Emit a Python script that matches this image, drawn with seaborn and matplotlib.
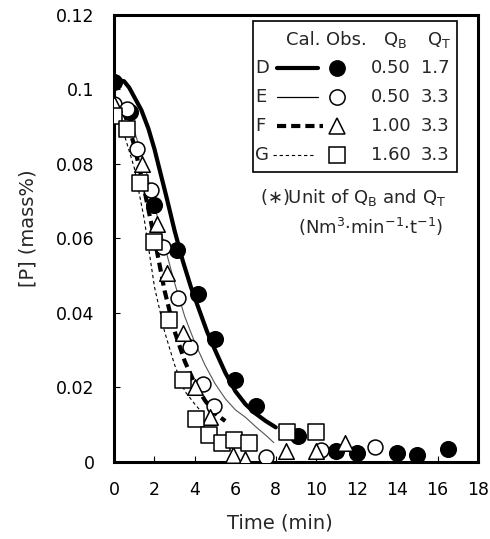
import matplotlib
matplotlib.use("Agg")
import matplotlib.pyplot as plt
import seaborn as sns
import numpy as np
import pandas as pd
from matplotlib.lines import Line2D
from matplotlib.patches import Rectangle

# ---------------- data ----------------
# observed points
t_D = [0, 0.8, 2.0, 3.1, 4.15, 5.0, 6.0, 7.0, 9.1, 11.0, 12.0, 14.0, 15.0, 16.5]
p_D = [0.102, 0.094, 0.069, 0.057, 0.045, 0.033, 0.022, 0.015, 0.007, 0.003, 0.0024, 0.0024, 0.002, 0.0035]

t_E = [0, 0.64, 1.13, 1.85, 2.43, 3.17, 3.76, 4.4, 4.95, 7.5, 10.25, 12.9]
p_E = [0.096, 0.0948, 0.084, 0.073, 0.0577, 0.044, 0.031, 0.021, 0.015, 0.0013, 0.0032, 0.004]

t_F = [0, 1.38, 2.13, 2.62, 3.4, 4.0, 4.75, 5.9, 6.48, 8.5, 10.0, 11.4]
p_F = [0.096, 0.080, 0.064, 0.0506, 0.0345, 0.020, 0.012, 0.0019, 0.0008, 0.003, 0.003, 0.005]

t_G = [0, 0.64, 1.3, 1.97, 2.72, 3.4, 4.06, 4.7, 5.34, 5.93, 6.68, 8.55, 10.0]
p_G = [0.093, 0.0895, 0.075, 0.059, 0.038, 0.022, 0.0115, 0.0072, 0.005, 0.006, 0.005, 0.008, 0.008]

# calculated curves
tc_D = [0, 0.25, 0.5, 0.75, 1.0, 1.35, 1.7, 2.0, 2.3, 2.6, 3.0, 3.4, 3.8, 4.2, 4.6, 5.0, 5.5, 6.0,
        6.5, 7.0, 7.5, 8.0]
pc_D = [0.102, 0.1025, 0.1022, 0.1005, 0.098, 0.0945, 0.0895, 0.084, 0.0775, 0.071, 0.062, 0.054,
        0.047, 0.041, 0.035, 0.030, 0.024, 0.019, 0.0155, 0.013, 0.011, 0.0093]

tc_E = [0, 0.5, 1.0, 1.5, 2.0, 2.5, 3.0, 3.5, 4.0, 4.5, 5.0, 5.5, 6.0, 6.5, 7.0, 7.5, 7.9]
pc_E = [0.097, 0.095, 0.089, 0.080, 0.069, 0.058, 0.048, 0.039, 0.032, 0.026, 0.021, 0.017, 0.014,
        0.012, 0.0095, 0.0072, 0.0052]

tc_F = [0, 0.5, 1.0, 1.5, 2.0, 2.5, 3.0, 3.5, 4.0, 4.5, 5.0, 5.5]
pc_F = [0.097, 0.094, 0.085, 0.073, 0.060, 0.046, 0.035, 0.027, 0.021, 0.0165, 0.013, 0.011]

tc_G = [0, 0.5, 1.0, 1.5, 2.0, 2.5, 3.0, 3.5, 4.0, 4.4]
pc_G = [0.093, 0.088, 0.079, 0.065, 0.047, 0.035, 0.026, 0.019, 0.0155, 0.013]

# legend table
run_names = ["D", "E", "F", "G"]
QB_vals = ["0.50", "0.50", "1.00", "1.60"]
QT_vals = ["1.7", "3.3", "3.3", "3.3"]

x_ticks = list(range(0, 19, 2))
y_ticks = [0, 0.02, 0.04, 0.06, 0.08, 0.1, 0.12]

# ---------------- style ----------------
sns.set_theme(style="white")
plt.rcParams["font.family"] = ["DejaVu Sans"]
plt.rcParams["mathtext.fontset"] = "dejavusans"

fig = plt.figure(figsize=(4.9, 5.39), dpi=100)
ax = fig.add_axes([0.2327, 0.1429, 0.7428, 0.8293])

# curves
line_styles = {
    "D": dict(color="black", linewidth=3.0, linestyle="-"),
    "E": dict(color="#555555", linewidth=0.8, linestyle="-"),
    "F": dict(color="black", linewidth=3.0, linestyle=(0, (2.2, 1.2))),
    "G": dict(color="black", linewidth=0.8, linestyle=(0, (3, 2.5))),
}
curves = {"D": (tc_D, pc_D), "E": (tc_E, pc_E), "F": (tc_F, pc_F), "G": (tc_G, pc_G)}
for k in ["G", "E", "F", "D"]:
    tt, pp = curves[k]
    sns.lineplot(x=tt, y=pp, ax=ax, sort=False, zorder=2, **line_styles[k])

# points
marker_styles = {
    "D": dict(marker="o", s=125, color="black", edgecolor="black"),
    "E": dict(marker="o", s=115, color="white", edgecolor="black"),
    "F": dict(marker="^", s=125, color="white", edgecolor="black"),
    "G": dict(marker="s", s=125, color="white", edgecolor="black"),
}
points = {"D": (t_D, p_D), "E": (t_E, p_E), "F": (t_F, p_F), "G": (t_G, p_G)}
for i, k in enumerate(["D", "E", "F", "G"]):
    tt, pp = points[k]
    sns.scatterplot(x=tt, y=pp, ax=ax, linewidth=1.1, zorder=3 + i, **marker_styles[k])

ax.set_xlim(0, 18)
ax.set_ylim(0, 0.12)
ax.set_xticks(x_ticks)
ax.set_yticks(y_ticks)
ax.set_xticklabels([str(v) for v in x_ticks])
ax.set_yticklabels(["{:g}".format(v) for v in y_ticks])
ax.tick_params(axis="both", direction="in", length=4, width=0.8, colors="black",
               labelsize=12.5, pad=14, top=False, right=False, bottom=True, left=True)
for sp in ax.spines.values():
    sp.set_linewidth(2.2)
    sp.set_color("black")

ax.set_xlabel("Time (min)", fontsize=14)
ax.set_ylabel("[P] (mass%)", fontsize=14)
ax.xaxis.set_label_coords(0.456, -0.136)
ax.yaxis.set_label_coords(-0.236, 0.523)
ax.xaxis.label.set_va("center")
ax.yaxis.label.set_va("center")

# ---------------- legend table ----------------
tr = ax.transAxes
ax.add_patch(Rectangle((0.382, 0.649), 0.560, 0.338, transform=tr, fill=False,
                       edgecolor="black", linewidth=1.2, zorder=10))
fs = 13
hy = 0.944
ax.text(0.519, hy, "Cal.", transform=tr, ha="center", va="center", fontsize=fs, zorder=11)
ax.text(0.638, hy, "Obs.", transform=tr, ha="center", va="center", fontsize=fs, zorder=11)
ax.text(0.772, hy, r"Q$_{\mathrm{B}}$", transform=tr, ha="center", va="center", fontsize=fs, zorder=11)
ax.text(0.893, hy, r"Q$_{\mathrm{T}}$", transform=tr, ha="center", va="center", fontsize=fs, zorder=11)

row_y = [0.881, 0.817, 0.752, 0.687]
sample_x = {"D": (0.448, 0.560), "E": (0.448, 0.560), "F": (0.448, 0.575), "G": (0.437, 0.552)}
leg_line = {
    "D": dict(color="black", linewidth=3.0, linestyle="-"),
    "E": dict(color="black", linewidth=0.9, linestyle="-"),
    "F": dict(color="black", linewidth=3.0, linestyle=(0, (2.2, 1.2))),
    "G": dict(color="black", linewidth=0.8, linestyle=(0, (3, 2.5))),
}
leg_marker = {
    "D": dict(marker="o", markersize=11, markerfacecolor="black", markeredgecolor="black"),
    "E": dict(marker="o", markersize=11, markerfacecolor="white", markeredgecolor="black"),
    "F": dict(marker="^", markersize=11, markerfacecolor="white", markeredgecolor="black"),
    "G": dict(marker="s", markersize=11, markerfacecolor="white", markeredgecolor="black"),
}
for name, qb, qt, yy in zip(run_names, QB_vals, QT_vals, row_y):
    ax.text(0.388, yy, name, transform=tr, ha="left", va="center", fontsize=fs, zorder=11)
    x0, x1 = sample_x[name]
    ax.add_line(Line2D([x0, x1], [yy, yy], transform=tr, zorder=11, **leg_line[name]))
    ax.add_line(Line2D([0.613], [yy], transform=tr, linestyle="none", markeredgewidth=1.1,
                       zorder=12, **leg_marker[name]))
    ax.text(0.815, yy, qb, transform=tr, ha="right", va="center", fontsize=fs, zorder=11)
    ax.text(0.922, yy, qt, transform=tr, ha="right", va="center", fontsize=fs, zorder=11)

ax.text(0.401, 0.591, r"(∗)Unit of Q$_{\mathrm{B}}$ and Q$_{\mathrm{T}}$", transform=tr,
        ha="left", va="center", fontsize=13, zorder=11)
ax.text(0.505, 0.526, r"(Nm$^{3}$·min$^{-1}$·t$^{-1}$)", transform=tr,
        ha="left", va="center", fontsize=13, zorder=11)

fig.savefig("out.png", dpi=100)
